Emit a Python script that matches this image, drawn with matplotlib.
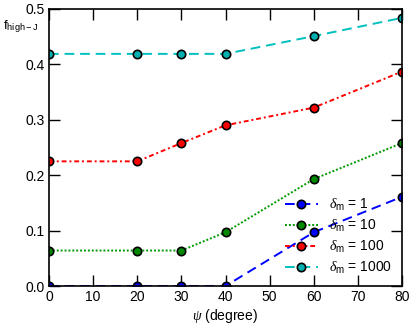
import matplotlib
matplotlib.use('Agg')
import matplotlib.pyplot as plt
from matplotlib.ticker import MultipleLocator

plt.rcParams['font.family'] = ['Liberation Sans', 'DejaVu Sans']
plt.rcParams['mathtext.fontset'] = 'custom'
plt.rcParams['mathtext.it'] = 'Liberation Serif:italic'
plt.rcParams['mathtext.rm'] = 'Liberation Sans'

# data
psi = [0, 20, 30, 40, 60, 80]
f_d1 = [0.0, 0.0, 0.0, 0.0, 0.097, 0.161]
f_d10 = [0.064, 0.064, 0.064, 0.097, 0.193, 0.258]
f_d100 = [0.225, 0.225, 0.258, 0.290, 0.322, 0.387]
f_d1000 = [0.419, 0.419, 0.419, 0.419, 0.451, 0.484]
labels = [r'$\delta_{\rm m}$ = 1', r'$\delta_{\rm m}$ = 10',
          r'$\delta_{\rm m}$ = 100', r'$\delta_{\rm m}$ = 1000']

fig = plt.figure(figsize=(4.16, 3.27), dpi=100)
ax = fig.add_axes([49/416, 1-286/327, (402-49)/416, (286-9)/327])

mk = dict(marker='o', markersize=6, markeredgecolor='k', markeredgewidth=1.2, lw=1.4)
ax.plot(psi, f_d1, color='#0000ff', ls=(0, (5, 3)), markerfacecolor='#0000ff', label=labels[0], **mk)
ax.plot(psi, f_d10, color='#009900', ls=(0, (1, 1)), markerfacecolor='#008800', label=labels[1], **mk)
ax.plot(psi, f_d100, color='#ff0000', ls=(0, (2.5, 1.5, 1, 1.5)), markerfacecolor='#ff0000', label=labels[2], **mk)
ax.plot(psi, f_d1000, color='#00c0c0', ls=(0, (5, 3)), markerfacecolor='#00b0b0', label=labels[3], **mk)

ax.set_xlim(0, 80)
ax.set_ylim(0, 0.5)
ax.xaxis.set_major_locator(MultipleLocator(10))
ax.set_yticks([0, 0.1, 0.2, 0.3, 0.4, 0.5])
ax.set_yticklabels(['0.0', '0.1', '0.2', '0.3', '0.4', '0.5'])
ax.minorticks_off()
ax.tick_params(direction='in', length=8, width=1, top=True, right=True, labelsize=10, pad=3)
for s in ax.spines.values():
    s.set_linewidth(1.2)

ax.set_xlabel(r'$\it{\psi}$ (degree)', fontsize=10, labelpad=2)
fig.text(3/416, 1-27/327, r'f$_{\rm high-J}$', fontsize=9.5, ha='left', va='center')

leg = ax.legend(loc='lower right', frameon=False, fontsize=10, handlelength=2.4,
                handletextpad=0.8, labelspacing=0.35, borderaxespad=0.3)

fig.savefig('out.png', dpi=100)
